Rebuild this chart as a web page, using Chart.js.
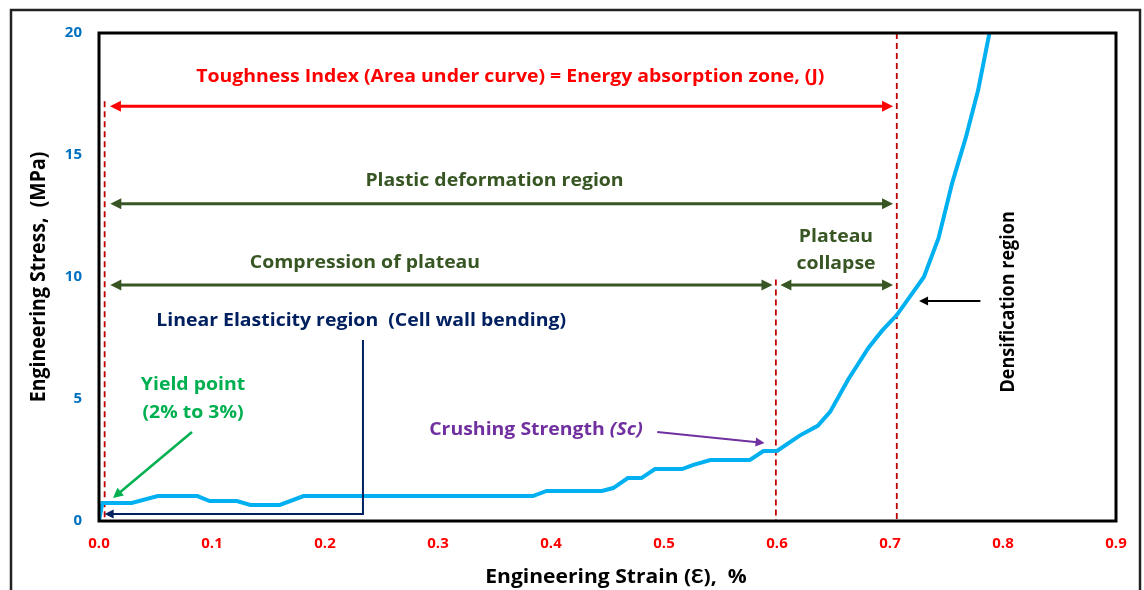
<!DOCTYPE html>
<html>
<head>
<meta charset="utf-8">
<script src="https://cdn.jsdelivr.net/npm/chart.js@4.4.0/dist/chart.umd.min.js"></script>
<style>
  html, body { margin: 0; padding: 0; background: #fff; }
</style>
</head>
<body>
<canvas id="myChart" width="1144" height="590"></canvas>
<script>
// curve
const strain = [0, 0.003, 0.029, 0.052, 0.087, 0.098, 0.122, 0.134, 0.160, 0.181, 0.384, 0.396,
    0.445, 0.455, 0.468, 0.480, 0.492, 0.516, 0.526, 0.541, 0.576, 0.588, 0.600, 0.620, 0.636,
    0.647, 0.663, 0.681, 0.693, 0.706, 0.730, 0.743, 0.755, 0.767, 0.778, 0.788];
const stress = [0, 0.74, 0.74, 1.02, 1.02, 0.82, 0.82, 0.66, 0.66, 1.02, 1.02, 1.23,
    1.23, 1.35, 1.76, 1.76, 2.13, 2.13, 2.30, 2.50, 2.50, 2.87, 2.87, 3.50, 3.90,
    4.47, 5.80, 7.10, 7.80, 8.44, 10.0, 11.6, 13.85, 15.7, 17.66, 20];
const xTickLabels = ['0.0', '0.1', '0.2', '0.3', '0.4', '0.5', '0.6', '0.7', '0.8', '0.9'];
const yTickLabels = ['0', '5', '10', '15', '20'];

const FONT = '"Open Sans", Lato, sans-serif';
const GREEN = '#375623';
const SX = 1.08; // the source picture is a little wider than tall

// annotations, in axis units
const dashedLines = [
    { x: 0.005, from: 0, to: 17.2 },
    { x: 0.706, from: 0, to: 20 },
    { x: 0.599, from: 0, to: 9.9 }
];
const spanArrows = [
    { y: 17.0, from: 0.0097, to: 0.7027, color: '#ff0000' },
    { y: 13.0, from: 0.010, to: 0.7027, color: GREEN },
    { y: 9.67, from: 0.010, to: 0.596, color: GREEN },
    { y: 9.67, from: 0.603, to: 0.7027, color: GREEN }
];
const labels = [
    { text: 'Toughness Index (Area under curve) = Energy absorption zone, (J)', x: 0.364, y: 18.2, color: '#ff0000' },
    { text: 'Plastic deformation region', x: 0.350, y: 13.93, color: GREEN },
    { text: 'Compression of plateau', x: 0.2354, y: 10.57, color: GREEN },
    { text: 'Plateau', x: 0.6522, y: 11.64, color: GREEN },
    { text: 'collapse', x: 0.6522, y: 10.53, color: GREEN },
    { text: 'Linear Elasticity region  (Cell wall bending)', x: 0.232, y: 8.2, color: '#002060' },
    { text: 'Yield point', x: 0.0832, y: 5.57, color: '#00b050' },
    { text: '(2% to 3%)', x: 0.0832, y: 4.43, color: '#00b050' },
    { text: 'Densification region', x: 0.8044, y: 8.98, color: '#000', rotate: true }
];

function arrowHead(c, x1, y1, x2, y2, size) {
    const a = Math.atan2(y2 - y1, x2 - x1);
    c.beginPath();
    c.moveTo(x2, y2);
    c.lineTo(x2 - size * Math.cos(a) + size * 0.5 * Math.sin(a), y2 - size * Math.sin(a) - size * 0.5 * Math.cos(a));
    c.lineTo(x2 - size * Math.cos(a) - size * 0.5 * Math.sin(a), y2 - size * Math.sin(a) + size * 0.5 * Math.cos(a));
    c.closePath();
    c.fill();
}

function arrow(c, x1, y1, x2, y2, color, width, both, size) {
    c.strokeStyle = color;
    c.fillStyle = color;
    c.lineWidth = width;
    const a = Math.atan2(y2 - y1, x2 - x1);
    const sx = both ? x1 + size * 0.8 * Math.cos(a) : x1;
    const sy = both ? y1 + size * 0.8 * Math.sin(a) : y1;
    c.beginPath();
    c.moveTo(sx, sy);
    c.lineTo(x2 - size * 0.8 * Math.cos(a), y2 - size * 0.8 * Math.sin(a));
    c.stroke();
    arrowHead(c, x1, y1, x2, y2, size);
    if (both) arrowHead(c, x2, y2, x1, y1, size);
}

// text stretched horizontally like the source picture
function label(c, text, x, y, font, color, rotate) {
    c.save();
    c.translate(x, y);
    c.scale(SX, 1);
    if (rotate) c.rotate(-Math.PI / 2);
    c.font = font;
    c.fillStyle = color;
    c.textAlign = 'center';
    c.textBaseline = 'middle';
    c.fillText(text, 0, 0);
    c.restore();
}

const annotate = {
    id: 'annotate',
    beforeDraw(chart) {
        const c = chart.ctx;
        c.save();
        c.fillStyle = '#fff';
        c.fillRect(0, 0, chart.width, chart.height);
        c.strokeStyle = '#222';
        c.lineWidth = 2.5;
        c.strokeRect(11, 10, 1129, 600);
        c.restore();
    },
    beforeDatasetsDraw(chart) {
        const c = chart.ctx;
        const xs = chart.scales.x, ys = chart.scales.y;
        c.save();
        c.strokeStyle = '#c00000';
        c.lineWidth = 1.8;
        c.setLineDash([6, 4]);
        dashedLines.forEach(d => {
            c.beginPath();
            c.moveTo(xs.getPixelForValue(d.x), ys.getPixelForValue(d.to));
            c.lineTo(xs.getPixelForValue(d.x), ys.getPixelForValue(d.from));
            c.stroke();
        });
        c.restore();
    },
    afterDatasetsDraw(chart) {
        const c = chart.ctx;
        const xs = chart.scales.x, ys = chart.scales.y;
        const X = v => xs.getPixelForValue(v), Y = v => ys.getPixelForValue(v);
        const area = chart.chartArea;
        c.save();

        // plot frame
        c.strokeStyle = '#000';
        c.lineWidth = 3;
        c.strokeRect(area.left, area.top, area.right - area.left, area.bottom - area.top);

        spanArrows.forEach(s => arrow(c, X(s.from), Y(s.y), X(s.to), Y(s.y), s.color, 3, true, 11));

        // yield point arrow
        arrow(c, X(0.0823), Y(3.65), X(0.0124), Y(0.94), '#00b050', 2.5, false, 10);
        // crushing strength arrow
        arrow(c, X(0.494), Y(3.65), X(0.589), Y(3.2), '#7030a0', 2, false, 9);
        // densification arrow
        arrow(c, X(0.78), Y(9.02), X(0.7257), Y(9.02), '#000', 2, false, 9);

        // linear elasticity bracket
        c.strokeStyle = '#002060';
        c.fillStyle = '#002060';
        c.lineWidth = 2;
        c.beginPath();
        c.moveTo(X(0.2336), Y(7.42));
        c.lineTo(X(0.2336), Y(0.29));
        c.lineTo(X(0.005) + 7, Y(0.29));
        c.stroke();
        arrowHead(c, X(0.2336), Y(0.29), X(0.005), Y(0.29), 9);

        labels.forEach(l => label(c, l.text, X(l.x), Y(l.y), 'bold 18px ' + FONT, l.color, l.rotate));

        // Crushing Strength (Sc) with italic part
        const part1 = 'Crushing Strength ';
        const part2 = '(Sc)';
        c.font = 'bold 18px ' + FONT;
        const w1 = c.measureText(part1).width;
        c.font = 'italic bold 18px ' + FONT;
        const w2 = c.measureText(part2).width;
        c.save();
        c.translate(X(0.3867), Y(3.73));
        c.scale(SX, 1);
        c.textAlign = 'left';
        c.textBaseline = 'middle';
        c.fillStyle = '#7030a0';
        c.font = 'bold 18px ' + FONT;
        c.fillText(part1, -(w1 + w2) / 2, 0);
        c.font = 'italic bold 18px ' + FONT;
        c.fillText(part2, -(w1 + w2) / 2 + w1, 0);
        c.restore();

        // axis titles
        label(c, 'Engineering Strain (Ɛ),  %', X(0.4575), area.bottom + 56, 'bold 19.5px ' + FONT, '#000', false);
        label(c, 'Engineering Stress,  (MPa)', 39, (area.top + area.bottom) / 2, 'bold 19.5px ' + FONT, '#000', true);

        c.restore();
    }
};

const ctx = document.getElementById('myChart').getContext('2d');
const myChart = new Chart(ctx, {
    type: 'line',
    data: {
        datasets: [{
            label: 'Stress-strain',
            data: strain.map((x, i) => ({ x: x, y: stress[i] })),
            borderColor: '#00b0f0',
            borderWidth: 4,
            pointRadius: 0,
            tension: 0,
            fill: false
        }]
    },
    options: {
        responsive: false,
        animation: false,
        devicePixelRatio: 1,
        layout: { padding: { left: 0, right: 28, top: 33, bottom: 0 } },
        plugins: {
            legend: { display: false },
            tooltip: { enabled: false }
        },
        scales: {
            x: {
                type: 'linear',
                min: 0,
                max: 0.9,
                grid: { display: false, drawTicks: false },
                border: { display: false },
                ticks: {
                    stepSize: 0.1,
                    padding: 14,
                    color: '#ff0000',
                    font: { family: FONT, size: 15, weight: 'bold' },
                    callback: (v, i) => xTickLabels[i]
                },
                afterFit: s => { s.height = 69; }
            },
            y: {
                min: 0,
                max: 20,
                grid: { display: false, drawTicks: false },
                border: { display: false },
                ticks: {
                    stepSize: 5,
                    padding: 17,
                    color: '#0070c0',
                    font: { family: FONT, size: 15, weight: 'bold' },
                    callback: (v, i) => yTickLabels[i]
                },
                afterFit: s => { s.width = 99; }
            }
        }
    },
    plugins: [annotate]
});
</script>
</body>
</html>
